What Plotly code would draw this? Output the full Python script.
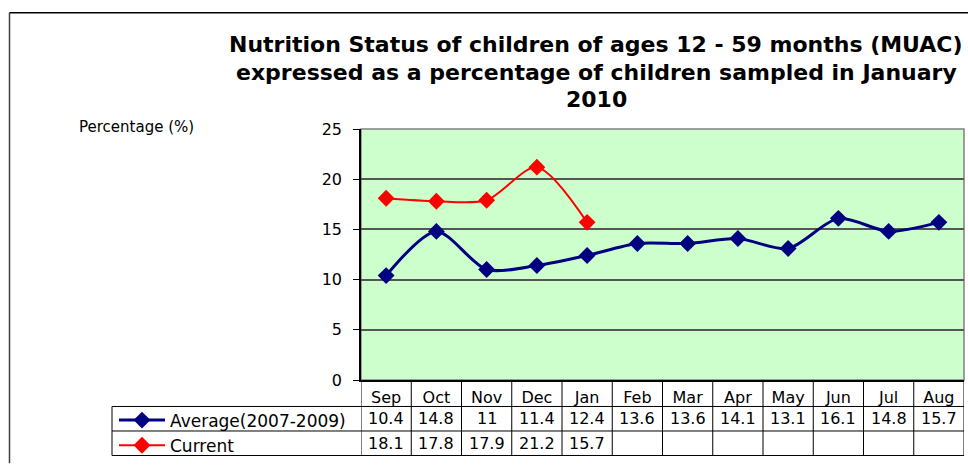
import plotly.graph_objects as go

months = ["Sep", "Oct", "Nov", "Dec", "Jan", "Feb", "Mar", "Apr", "May", "Jun", "Jul", "Aug"]
average = [10.4, 14.8, 11, 11.4, 12.4, 13.6, 13.6, 14.1, 13.1, 16.1, 14.8, 15.7]
current = [18.1, 17.8, 17.9, 21.2, 15.7]
series_names = ["Average(2007-2009)", "Current"]
title_lines = [
    "Nutrition Status of children of ages 12 - 59 months (MUAC)",
    "expressed as a percentage of children sampled in January",
    "2010",
]
y_label = "Percentage (%)"

W, H = 968, 468
ML, MR, MT, MB = 361, 4, 129, 83
PW, PH = W - ML - MR, H - MT - MB


def px(x):
    return (x - ML) / PW


def py(y):
    return (H - MB - y) / PH


FONT = "DejaVu Sans"
NAVY = "#000080"
RED = "#FF0000"

fig = go.Figure()
fig.add_trace(go.Scatter(
    x=months, y=average, name=series_names[0], mode="lines+markers",
    line=dict(color=NAVY, width=3, shape="spline", smoothing=0.8),
    marker=dict(symbol="diamond", size=13, color=NAVY),
))
fig.add_trace(go.Scatter(
    x=months[:len(current)], y=current, name=series_names[1], mode="lines+markers",
    line=dict(color=RED, width=2, shape="spline", smoothing=0.8),
    marker=dict(symbol="diamond", size=13, color=RED),
))

shapes = []
# plot border (gray top/right)
shapes.append(dict(type="rect", xref="paper", yref="paper", x0=0, x1=1, y0=0, y1=1,
                   line=dict(color="#808080", width=1.5), layer="below"))
# outer figure border
shapes.append(dict(type="line", xref="paper", yref="paper", x0=px(9.5), x1=px(9.5),
                   y0=py(10.5), y1=py(470), line=dict(color="#404040", width=1.5)))
shapes.append(dict(type="line", xref="paper", yref="paper", x0=px(9.5), x1=px(970),
                   y0=py(10.5), y1=py(10.5), line=dict(color="#000000", width=1.5)))

row_lines = [py(412), py(437), py(462)]
row_centers = [py(398), py(424.5), py(449.5)]
tbl_left = px(112)
# vertical column dividers
for i in range(len(months) + 1):
    shapes.append(dict(type="line", xref="x", yref="paper", x0=i - 0.5, x1=i - 0.5,
                       y0=0, y1=row_lines[-1], line=dict(color="#000000", width=1)))
# horizontal row lines
for yl in row_lines:
    shapes.append(dict(type="line", xref="paper", yref="paper", x0=tbl_left, x1=1,
                       y0=yl, y1=yl, line=dict(color="#000000", width=1)))
shapes.append(dict(type="line", xref="paper", yref="paper", x0=tbl_left, x1=tbl_left,
                   y0=row_lines[0], y1=row_lines[-1], line=dict(color="#000000", width=1)))

annotations = []
for i, t in enumerate(title_lines):
    annotations.append(dict(text=t, xref="paper", yref="paper", x=px(596), y=py([43, 71, 99][i]),
                            showarrow=False, xanchor="center", yanchor="middle",
                            font=dict(family=FONT, size=22, color="#000000", weight="bold")))
annotations.append(dict(text=y_label, xref="paper", yref="paper", x=px(77), y=py(127),
                        showarrow=False, xanchor="left", yanchor="middle",
                        font=dict(family=FONT, size=15, color="#000000")))
for m, v in zip(months, average):
    annotations.append(dict(text=f"{v:g}", xref="x", yref="paper", x=m, y=row_centers[1],
                            showarrow=False, yanchor="middle",
                            font=dict(family=FONT, size=16, color="#000000")))
for m, v in zip(months, current):
    annotations.append(dict(text=f"{v:g}", xref="x", yref="paper", x=m, y=row_centers[2],
                            showarrow=False, yanchor="middle",
                            font=dict(family=FONT, size=16, color="#000000")))

fig.update_layout(
    width=W, height=H,
    margin=dict(l=ML, r=MR, t=MT, b=MB, pad=0),
    paper_bgcolor="#FFFFFF",
    plot_bgcolor="#CCFFCC",
    shapes=shapes,
    annotations=annotations,
    showlegend=True,
    legend=dict(x=px(114), y=py(408), xanchor="left", yanchor="top",
                font=dict(family=FONT, size=17, color="#000000"),
                bgcolor="rgba(0,0,0,0)", borderwidth=0, itemwidth=46,
                tracegroupgap=0),
    xaxis=dict(
        categoryorder="array", categoryarray=months,
        range=[-0.5, len(months) - 0.5],
        showgrid=False, zeroline=False,
        showline=True, linecolor="#000000", linewidth=1.5,
        ticks="", tickfont=dict(family=FONT, size=16, color="#000000"),
        ticklabelstandoff=2,
    ),
    yaxis=dict(
        range=[0, 25], dtick=5, tick0=0,
        showgrid=True, gridcolor="#555555", gridwidth=1.5,
        zeroline=False,
        showline=True, linecolor="#000000", linewidth=1.5,
        ticks="outside", ticklen=6, tickcolor="#000000",
        tickfont=dict(family=FONT, size=16, color="#000000"),
        ticklabelstandoff=8,
    ),
)

fig.write_html(
    "out.html",
    config={"displayModeBar": False},
    post_script="document.body.style.margin='0';document.body.style.overflow='hidden';",
)
